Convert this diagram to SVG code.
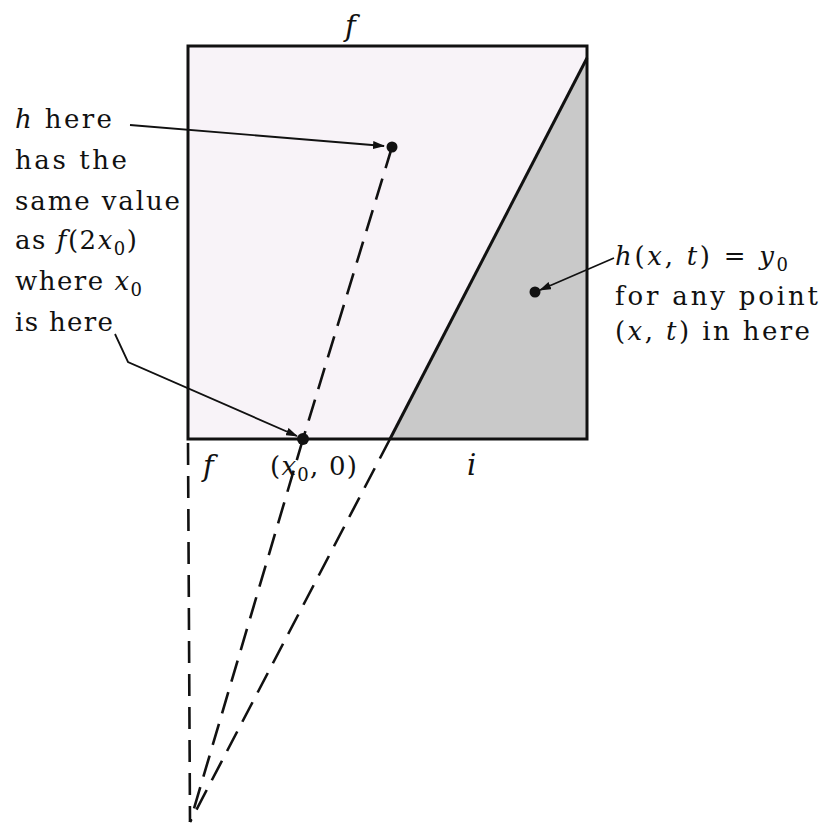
<svg xmlns="http://www.w3.org/2000/svg" width="825" height="832" viewBox="0 0 825 832">
<style>
text{font-family:"DejaVu Serif","Liberation Serif",serif;font-size:26px;fill:#111}
.i{font-style:italic}
.s{font-size:18px}
.big{font-size:29px}
.ln{stroke:#111;stroke-width:3;fill:none}
.d{stroke:#111;stroke-width:2.6;fill:none;stroke-dasharray:22 11}
.a{stroke:#111;stroke-width:1.8;fill:none}
</style>
<defs>
<marker id="ah" markerWidth="12" markerHeight="8" refX="11" refY="4" orient="auto" markerUnits="userSpaceOnUse">
<path d="M0,0 L12,4 L0,8 Z" fill="#111"/>
</marker>
</defs>
<rect width="825" height="832" fill="#fff"/>
<g id="square">
<rect x="188" y="46" width="399" height="393" fill="#f8f3f8"/>
<polygon points="390,439 587,58 587,439" fill="#c9c9c9"/>
<rect x="188" y="46" width="399" height="393" class="ln"/>
</g>
<g id="connectors">
<line x1="587" y1="58" x2="390" y2="439" class="ln"/>
<line x1="390" y1="439" x2="190" y2="822" class="d"/>
<line x1="188" y1="443" x2="190" y2="822" class="d"/>
<line x1="392" y1="147" x2="303" y2="439" class="d"/>
<line x1="303" y1="439" x2="190" y2="822" class="d"/>
<line x1="130" y1="125" x2="384" y2="146" class="a" marker-end="url(#ah)"/>
<path d="M115,334 L128,362 L297,436" class="a" marker-end="url(#ah)"/>
<line x1="614" y1="258" x2="540" y2="290" class="a" marker-end="url(#ah)"/>
</g>
<g id="points">
<circle cx="392" cy="147" r="5.5" fill="#111"/>
<circle cx="303" cy="439" r="6" fill="#111"/>
<circle cx="535" cy="292" r="5.5" fill="#111"/>
</g>
<g id="left-label">
<text x="15" y="128" textLength="97" lengthAdjust="spacing"><tspan class="i">h</tspan> here</text>
<text x="15" y="169" textLength="112" lengthAdjust="spacing">has the</text>
<text x="15" y="210" textLength="165" lengthAdjust="spacing">same value</text>
<text x="15" y="249" textLength="122" lengthAdjust="spacing">as <tspan class="i">f</tspan>(2<tspan class="i">x</tspan><tspan class="s" dy="6">0</tspan><tspan dy="-6">)</tspan></text>
<text x="15" y="290" textLength="127" lengthAdjust="spacing">where <tspan class="i">x</tspan><tspan class="s" dy="6">0</tspan></text>
<text x="15" y="331" textLength="98" lengthAdjust="spacing">is here</text>
</g>
<g id="right-label">
<text x="615" y="265" textLength="173" lengthAdjust="spacing"><tspan class="i">h</tspan>(<tspan class="i">x</tspan>, <tspan class="i">t</tspan>) = <tspan class="i">y</tspan><tspan class="s" dy="6">0</tspan></text>
<text x="615" y="305" textLength="203" lengthAdjust="spacing">for any point</text>
<text x="615" y="340" textLength="195" lengthAdjust="spacing">(<tspan class="i">x</tspan>, <tspan class="i">t</tspan>) in here</text>
</g>
<g id="axis-labels">
<text x="345" y="36" class="i big">f</text>
<text x="203" y="476" class="i big">f</text>
<text x="270" y="475" textLength="87" lengthAdjust="spacing">(<tspan class="i">x</tspan><tspan class="s" dy="6">0</tspan><tspan dy="-6">, 0)</tspan></text>
<text x="467" y="475" class="i big">i</text>
</g>
</svg>
